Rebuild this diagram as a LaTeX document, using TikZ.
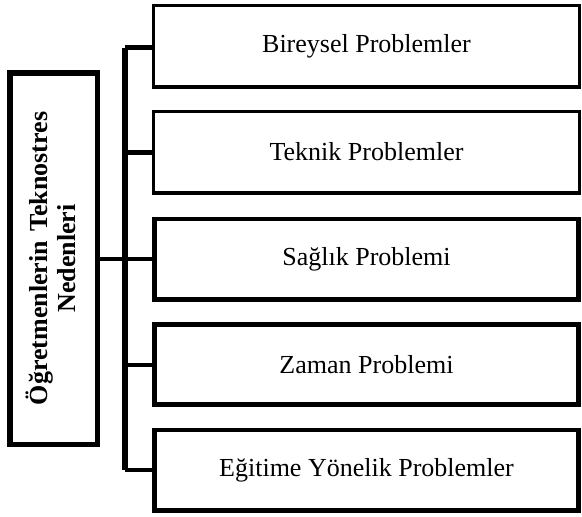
\documentclass[tikz,border=0pt]{standalone}
\usepackage{fontspec}
\setmainfont{Liberation Serif}
\begin{document}
\begin{tikzpicture}[x=1pt,y=-1pt,
  probbox/.style={draw=black, inner sep=0pt, font=\fontsize{26}{30}\selectfont},
  thinbox/.style={probbox, line width=3.2pt, minimum width=425.8pt, minimum height=81.8pt},
  thickbox/.style={probbox, line width=4.8pt, minimum width=424.2pt, minimum height=80.2pt},
  rootbox/.style={draw=black, line width=5.5pt, minimum width=87.5pt, minimum height=371.5pt, inner sep=0pt},
  roottext/.style={rotate=90, align=center, inner sep=0pt, font=\fontsize{26}{28}\selectfont\bfseries},
  link/.style={line width=4.6pt},
  trunkline/.style={line width=6pt},
  ]
\useasboundingbox (0,0) rectangle (582,517);

\node[thinbox]  (b1) at (366.5,46)  {Bireysel Problemler};
\node[thinbox]  (b2) at (366.5,152) {Teknik Problemler};
\node[thickbox] (b3) at (366.5,259) {Sağlık Problemi};
\node[thickbox] (b4) at (366.5,364.5) {Zaman Problemi};
\node[thickbox] (b5) at (366.5,470) {Eğitime Yönelik Problemler};

\node[rootbox] (root) at (53.5,258.5) {};
\node[roottext] (roottxt) at ([xshift=-3pt]root.center) {Öğretmenlerin\hspace{0.35em}Teknostres\\Nedenleri};

\coordinate (t1) at (125,47.5);
\coordinate (t2) at (125,152.5);
\coordinate (t3) at (125,259);
\coordinate (t4) at (125,365);
\coordinate (t5) at (125,470);

\draw[trunkline] (t1) -- (t5);
\draw[link] (t1) -- (t1 -| b1.west);
\draw[link] (t2) -- (t2 -| b2.west);
\draw[link] (t3) -- (t3 -| b3.west);
\draw[link] (t4) -- (t4 -| b4.west);
\draw[link] (t5) -- (t5 -| b5.west);
\draw[link] (t3 -| root.east) -- (t3);
\end{tikzpicture}
\end{document}
